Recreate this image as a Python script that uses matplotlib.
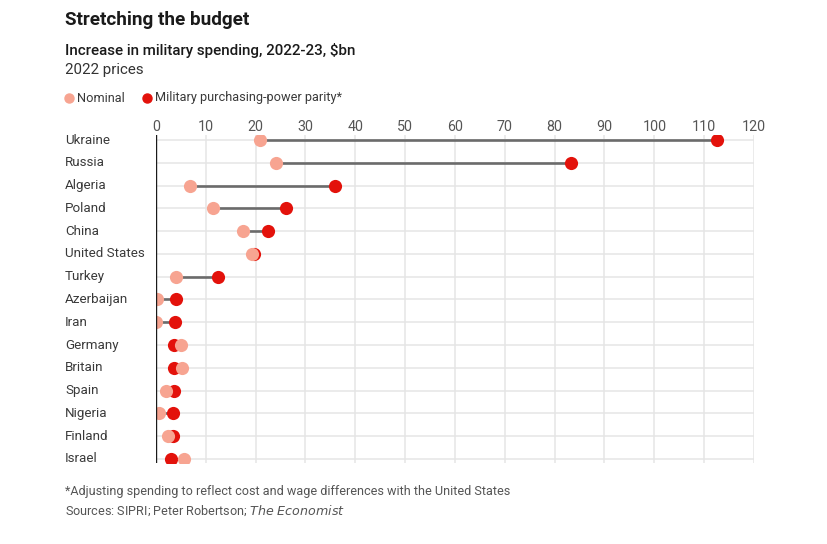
import matplotlib.pyplot as plt

plt.rcParams['font.family'] = ['Roboto', 'DejaVu Sans']

countries = ['Ukraine', 'Russia', 'Algeria', 'Poland', 'China', 'United States',
             'Turkey', 'Azerbaijan', 'Iran', 'Germany', 'Britain', 'Spain',
             'Nigeria', 'Finland', 'Israel']
nominal = [20.9, 24.1, 6.8, 11.4, 17.5, 19.3, 4.0, 0.3, 0.0, 5.0, 5.2, 2.0, 0.6, 2.4, 5.6]
ppp = [112.6, 83.3, 35.9, 26.1, 22.5, 19.7, 12.4, 4.0, 3.8, 3.6, 3.6, 3.6, 3.4, 3.4, 3.0]
xticks = list(range(0, 121, 10))

pink = '#F7A491'
red = '#E3120B'
grey = '#555555'

W, H = 828, 544
fig = plt.figure(figsize=(W / 100, H / 100), dpi=100)

# axes placed in pixel coords
left, right, top, bottom = 156, 754, 135, 463
ax = fig.add_axes([left / W, 1 - bottom / H, (right - left) / W, (bottom - top) / H])

n = len(countries)
ys = list(range(n))
ax.set_xlim(0, 120)
ax.set_ylim(n - 1 + 0.18, -0.22)

for x in xticks:
    ax.axvline(x, color='#e5e5e5', lw=1.1, zorder=0)
for y in ys:
    ax.hlines(y, 0, 120, color='#e5e5e5', lw=1.1, zorder=0)

for y, a, b in zip(ys, nominal, ppp):
    ax.plot([a, b], [y, y], color='#6b6b6b', lw=1.9, zorder=2, solid_capstyle='butt')

ax.scatter(ppp, ys, s=90, color=red, zorder=3, linewidths=0)
ax.scatter(nominal, ys, s=90, color=pink, zorder=4, linewidths=0)
ax.axvline(0, color='#1a1a1a', lw=1.0, zorder=5)

ax.set_xticks(xticks)
ax.xaxis.tick_top()
ax.tick_params(axis='x', length=0, pad=1, labelsize=10.3, labelcolor=grey)
ax.set_yticks([])
for s in ax.spines.values():
    s.set_visible(False)

label_tr = ax.get_yaxis_transform().__class__(fig.transFigure, ax.transData)
for y, c in zip(ys, countries):
    ax.text(65 / W, y, c, transform=label_tr,
            ha='left', va='center', fontsize=9.6, color='#3a3a3a')

fig.text(65 / W, 1 - 20 / H, 'Stretching the budget', fontsize=13.6, fontweight='bold',
         color='#1a1a1a', va='center', ha='left')
fig.text(65 / W, 1 - 50 / H, 'Increase in military spending, 2022-23, $bn', fontsize=10.9,
         fontweight='medium', color='#1a1a1a', va='center', ha='left')
fig.text(65 / W, 1 - 70 / H, '2022 prices', fontsize=10.9, color='#333333', va='center', ha='left')

# legend
fig.lines.append(plt.Line2D([69 / W], [1 - 98 / H], marker='o', color=pink, markersize=6.5,
                            linestyle='none', transform=fig.transFigure))
fig.text(77 / W, 1 - 98 / H, 'Nominal', fontsize=9.2, color='#3a3a3a', va='center', ha='left')
fig.lines.append(plt.Line2D([147 / W], [1 - 98 / H], marker='o', color=red, markersize=6.5,
                            linestyle='none', transform=fig.transFigure))
fig.text(155 / W, 1 - 98 / H, 'Military purchasing-power parity*', fontsize=9.2, color='#3a3a3a',
         va='center', ha='left')

fig.text(65 / W, 1 - 491 / H, '*Adjusting spending to reflect cost and wage differences with the United States',
         fontsize=9.1, color=grey, va='center', ha='left')
fig.text(65 / W, 1 - 511 / H, 'Sources: SIPRI; Peter Robertson; $\\it{The\\ Economist}$',
         fontsize=9.1, color=grey, va='center', ha='left')

fig.savefig('out.png', dpi=100)
